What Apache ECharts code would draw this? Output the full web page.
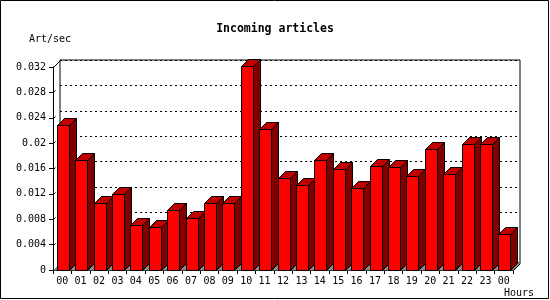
<!DOCTYPE html>
<html><head><meta charset="utf-8">
<script src="https://cdn.jsdelivr.net/npm/echarts@6/dist/echarts.min.js"></script>
<style>html,body{margin:0;padding:0;background:#fff}#c{width:550px;height:300px}</style>
</head><body><div id="c"></div>
<script>
const categories = ['00','01','02','03','04','05','06','07','08','09','10','11','12','13','14','15','16','17','18','19','20','21','22','23','00'];
const artPerSec = [0.0229,0.0174,0.0106,0.0120,0.0071,0.0068,0.0094,0.0082,0.0106,0.0106,0.0321,0.0223,0.0145,0.0134,0.0174,0.0159,0.0129,0.0164,0.0163,0.0148,0.0190,0.0152,0.0199,0.0199,0.0057];
const yTicks = [0,0.004,0.008,0.012,0.016,0.02,0.024,0.028,0.032];
const titleText = 'Incoming articles';
const yName = 'Art/sec';
const xName = 'Hours';

const FONT = 'DejaVu Sans Mono';
const D = 7;            // 3D depth in px
const HW = 5.5;         // half front width
const G = {left:53, right:37, top:67, bottom:30};

const chart = echarts.init(document.getElementById('c'), null, {renderer:'canvas'});
const barData = artPerSec.map((v,i)=>[i,v]);
const floorData = categories.map((c,i)=>[i,0]);

function snap(v){return Math.round(v)+0.5;}

function renderFloor(params, api){
  const i = api.value(0);
  const c = api.coord([i,0]);
  const w = api.size([1,0])[0];
  const x0 = c[0]-w/2, x1 = c[0]+w/2, yb = snap(c[1]);
  return {type:'polygon', shape:{points:[[x0,yb],[x1,yb],[x1+D,yb-D],[x0+D,yb-D]]},
    style:{fill:'#808080', stroke:null}};
}
function renderBar(params, api){
  const i = api.value(0), v = api.value(1);
  const t = api.coord([i,v]), b = api.coord([i,0]);
  const xl = snap(t[0]-HW), yt = snap(t[1]), yb = snap(b[1]);
  const xr = xl + 2*HW;
  const xr2 = Math.round(xr)+0.5;
  return {type:'group', children:[
    {type:'polygon', shape:{points:[[xr2,yt],[xr2+D,yt-D],[xr2+D,yb-D],[xr2,yb]]},
      style:{fill:'#800000', stroke:'#000', lineWidth:1}},
    {type:'polygon', shape:{points:[[xl,yt],[xl+D,yt-D],[xr2+D,yt-D],[xr2,yt]]},
      style:{fill:'#C00000', stroke:'#000', lineWidth:1}},
    {type:'rect', shape:{x:xl,y:yt,width:xr2-xl,height:yb-yt},
      style:{fill:'#FF0000', stroke:'#000', lineWidth:1}}
  ]};
}

const option = {
  backgroundColor:'#fff',
  animation:false,
  title:{text:titleText, left:'center', top:18,
    textStyle:{fontFamily:FONT, fontWeight:'bold', fontSize:11.5, color:'#000'}},
  grid:[
    {left:G.left, right:G.right, top:G.top, bottom:G.bottom},
    {left:G.left+D, right:G.right-D, top:G.top-D, bottom:G.bottom+D, show:true,
      borderColor:'#000', borderWidth:1, backgroundColor:'#fff'}
  ],
  xAxis:[
    {gridIndex:0, type:'category', data:categories,
      axisLine:{show:true, lineStyle:{color:'#000', width:1}},
      axisTick:{show:true, length:4, lineStyle:{color:'#000'}},
      axisLabel:{fontFamily:FONT, fontSize:10, color:'#000', margin:6, interval:0},
      splitLine:{show:false},
      name:xName, nameLocation:'end', nameGap:21,
      nameTextStyle:{fontFamily:FONT, fontSize:10, color:'#000', align:'right', verticalAlign:'top', padding:[18,0,0,0]}
    },
    {gridIndex:1, type:'value', show:false, min:0, max:1}
  ],
  yAxis:[
    {gridIndex:0, type:'value', min:0, max:0.032, interval:0.004,
      axisLine:{show:true, lineStyle:{color:'#000', width:1}},
      axisTick:{show:true, length:4, lineStyle:{color:'#000'}},
      axisLabel:{fontFamily:FONT, fontSize:10, color:'#000', margin:7,
        formatter:(v)=>{const t=yTicks.find(x=>Math.abs(x-v)<1e-9); return String(t!==undefined?t:v);}},
      splitLine:{show:false},
      name:yName, nameLocation:'end', nameGap:28,
      nameTextStyle:{fontFamily:FONT, fontSize:10, color:'#000', align:'center', verticalAlign:'middle', padding:[0,6,0,0]}
    },
    {gridIndex:1, type:'value', min:0, max:0.032, interval:0.004,
      axisLine:{show:false}, axisTick:{show:false}, axisLabel:{show:false},
      splitLine:{show:true, lineStyle:{color:'#000', width:1, type:[2,3]}}
    }
  ],
  series:[
    {type:'custom', xAxisIndex:0, yAxisIndex:0, data:floorData, renderItem:renderFloor, z:2, silent:true},
    {type:'custom', xAxisIndex:0, yAxisIndex:0, data:barData, renderItem:renderBar, z:3, silent:true,
      encode:{x:0, y:1}}
  ]
};
chart.setOption(option);

// connectors between the front axes and the back wall, plus outer frame
const gfx = [];
const yTop = chart.convertToPixel({yAxisIndex:0}, yTicks[yTicks.length-1]);
const yBot = chart.convertToPixel({yAxisIndex:0}, yTicks[0]);
const xL = G.left + 0.5, xR = 550 - G.right + 0.5;
gfx.push({type:'line', shape:{x1:xL, y1:Math.round(yTop)+0.5, x2:xL+D, y2:Math.round(yTop)+0.5-D}, style:{stroke:'#000', lineWidth:1}, z:1});
gfx.push({type:'line', shape:{x1:xR, y1:Math.round(yBot)+0.5, x2:xR+D, y2:Math.round(yBot)+0.5-D}, style:{stroke:'#000', lineWidth:1}, z:5});
yTicks.slice(1,-1).forEach(t=>{
  const y = Math.round(chart.convertToPixel({yAxisIndex:0}, t))+0.5;
  gfx.push({type:'line', shape:{x1:xL, y1:y, x2:xL+2, y2:y-2}, style:{stroke:'#000', lineWidth:1}, z:1});
});
gfx.push({type:'rect', shape:{x:0.5, y:0.5, width:548, height:298}, style:{fill:null, stroke:'#000', lineWidth:1}, z:10});
chart.setOption({graphic:gfx});
</script>
</body></html>
